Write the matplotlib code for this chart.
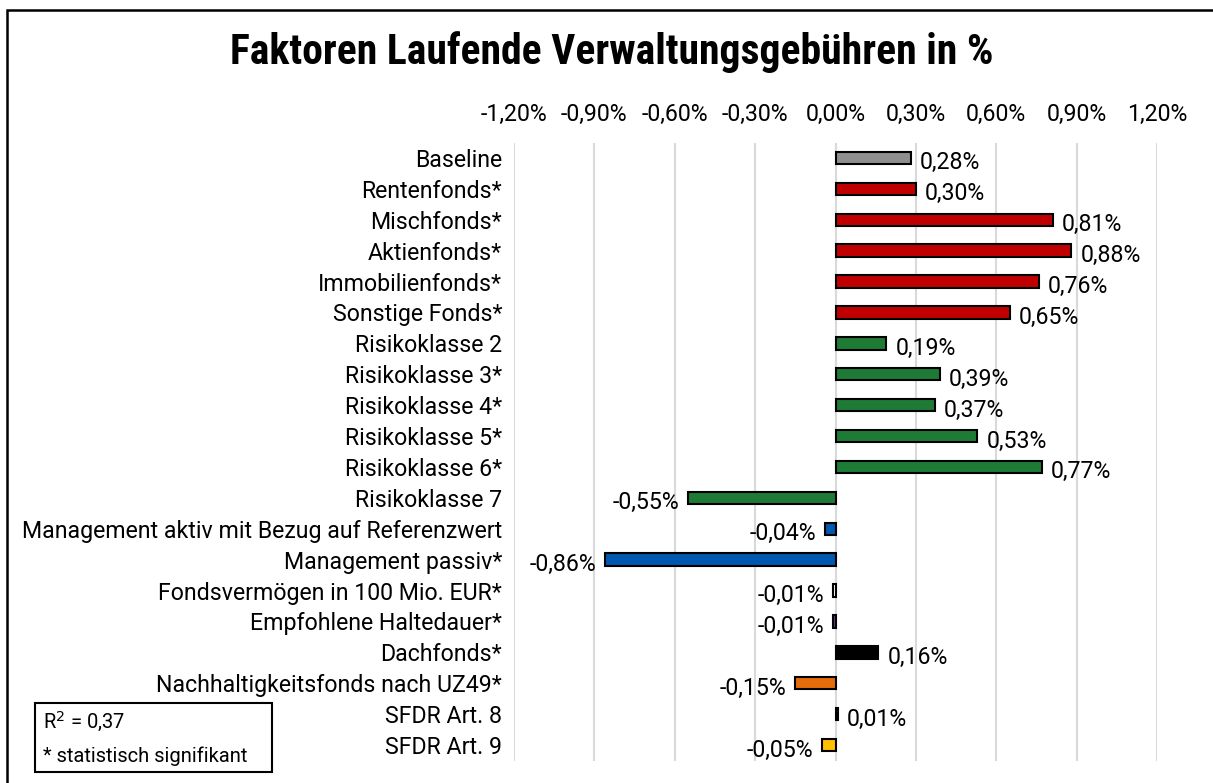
import matplotlib
matplotlib.use("Agg")
import matplotlib.pyplot as plt
from matplotlib.patches import Rectangle

# factors and their effect on ongoing fees (in %)
categories = [
    "Baseline", "Rentenfonds*", "Mischfonds*", "Aktienfonds*", "Immobilienfonds*",
    "Sonstige Fonds*", "Risikoklasse 2", "Risikoklasse 3*", "Risikoklasse 4*",
    "Risikoklasse 5*", "Risikoklasse 6*", "Risikoklasse 7",
    "Management aktiv mit Bezug auf Referenzwert", "Management passiv*",
    "Fondsvermögen in 100 Mio. EUR*", "Empfohlene Haltedauer*", "Dachfonds*",
    "Nachhaltigkeitsfonds nach UZ49*", "SFDR Art. 8", "SFDR Art. 9",
]
values = [0.28, 0.30, 0.81, 0.88, 0.76, 0.65, 0.19, 0.39, 0.37, 0.53, 0.77,
          -0.55, -0.04, -0.86, -0.01, -0.01, 0.16, -0.15, 0.01, -0.05]
colors = ["#8f8f8f"] + ["#c00000"] * 5 + ["#1e7b36"] * 6 + ["#0058b0"] * 2 + \
         ["#ffffff", "#7030a0", "#000000", "#e46c0a", "#ffffff", "#ffc000"]
ticks = [-1.2, -0.9, -0.6, -0.3, 0.0, 0.3, 0.6, 0.9, 1.2]

plt.rcParams["font.family"] = ["Roboto", "DejaVu Sans"]
FS = 16.7

def pct(v):
    return f"{v:.2f}%".replace(".", ",")

W, H = 1213, 783
fig = plt.figure(figsize=(W / 100, H / 100), dpi=100)
ax = fig.add_axes([514 / W, 1 - 760.5 / H, (1157 - 514) / W, (760.5 - 142.5) / H])

y = list(range(len(categories)))
ax.barh(y, values, height=0.4, color=colors, edgecolor="black", linewidth=1.5, zorder=3)
ax.set_ylim(len(categories) - 0.5, -0.5)
ax.set_xlim(-1.2, 1.2)
ax.set_xticks(ticks)
ax.set_xticklabels([pct(t) for t in ticks], fontsize=FS)
ax.xaxis.tick_top()
ax.tick_params(axis="x", length=0, pad=12)
ax.set_yticks(y)
ax.set_yticklabels(categories, fontsize=FS)
ax.tick_params(axis="y", length=0, pad=8.5)
ax.grid(axis="x", color="#d9d9d9", linewidth=1.5, zorder=0)
for s in ax.spines.values():
    s.set_visible(False)

for yi, v in zip(y, values):
    off = 9 if v >= 0 else -9
    ax.annotate(pct(v), (v, yi), xytext=(off, -5), textcoords="offset pixels",
                ha="left" if v >= 0 else "right", va="center", fontsize=FS)

fig.text(612 / W, 1 - 52 / H, "Faktoren Laufende Verwaltungsgebühren in %",
         ha="center", va="center", fontsize=30, fontweight="bold",
         family=["Roboto Condensed", "DejaVu Sans"])

# note box
fig.patches.append(Rectangle((35 / W, 1 - 772 / H), 237 / W, 69 / H,
                             transform=fig.transFigure, fill=False,
                             edgecolor="black", linewidth=1.5))
fig.text(43 / W, 1 - 722 / H, "R$^2$ = 0,37", ha="left", va="center", fontsize=14.5)
fig.text(43 / W, 1 - 756 / H, "* statistisch signifikant", ha="left", va="center", fontsize=14.5)

# outer frame
fig.patches.append(Rectangle((7 / W, -0.1), 1.2, 1.1 - 10 / H,
                             transform=fig.transFigure, fill=False,
                             edgecolor="black", linewidth=1.8))

fig.savefig("out.png", dpi=100)
